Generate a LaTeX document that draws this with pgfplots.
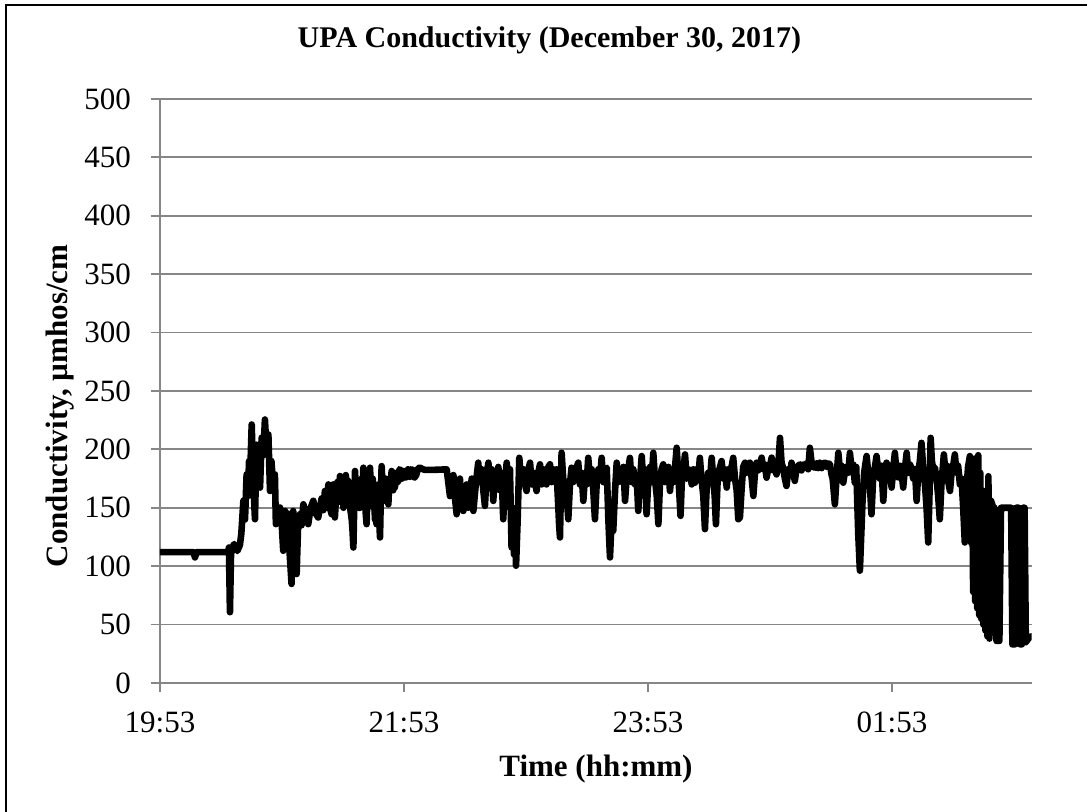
\documentclass[border=0pt]{standalone}
\usepackage{fontspec}
\setmainfont{Liberation Serif}
\usepackage{pgfplots}
\pgfplotsset{compat=1.18}
\definecolor{gridgray}{RGB}{134,134,134}
\begin{document}
\begin{tikzpicture}
\useasboundingbox (-80pt,-64.5pt) rectangle (463.5pt,341.5pt);
\draw[line width=1.3pt] (-77pt,-120pt) -- (-77pt,339pt) -- (520pt,339pt);
\begin{axis}[
  at={(0pt,0pt)}, anchor=south west,
  scale only axis, width=435.85pt, height=292pt,
  xmin=0, xmax=428.7, ymin=0, ymax=500,
  axis x line=bottom, axis y line=left,
  axis line style={gridgray, line width=0.9pt, -},
  xtick={0,120,240,360}, xticklabels={19:53,21:53,23:53,01:53},
  ytick={0,50,...,500},
  tick align=outside, major tick length=4.5pt,
  tick style={gridgray, line width=0.9pt},
  ymajorgrids, major grid style={gridgray, line width=0.9pt},
  tick label style={font=\fontsize{15.5}{18}\selectfont},
  yticklabel style={xshift=-6.5pt},
  xticklabel style={yshift=-6.5pt},
  /pgf/number format/assume math mode=true,
]
\addplot[black, line width=3.3pt, line join=round, line cap=round] coordinates {
(0,112) (16.5,112) (17.2,107.5) (18,112) (33.6,112) (33.9,116) (34.4,60.6) (34.9,108)
(35.2,115) (36.5,119) (38,113) (39.3,118) (40,128) (41,156) (41.8,140) (42.6,178.6)
(43.2,160) (43.8,190) (44.3,175) (45.1,221.3) (45.6,190) (46.2,160) (46.7,140.2) (47.5,204)
(48.3,175) (49.2,167.3) (50,210) (50.8,195) (51.6,225.6) (52.4,200) (53.3,212.8) (54.1,164.4)
(54.8,190) (55.6,170) (56.5,178.6) (57,136) (58,148) (59,150.2) (59.8,138) (60.6,113.2)
(61.5,147.3) (62.3,125) (63,145) (63.8,110) (64.7,84.8) (65.5,147.3) (66.3,120) (67.2,93.3)
(68,140) (68.8,144.5) (69.6,135) (70.5,153) (71.7,145) (72.9,136) (74.1,150) (75.4,156)
(76.6,145) (77.8,141.7) (79.5,158) (80.3,148) (81.1,164.4) (82,150) (82.8,170) (83.6,150)
(84.4,144.5) (85.2,170) (86,141.7) (86.6,160) (87.2,172) (87.8,155) (88.5,177.2) (89.3,160)
(89.8,170) (90.2,150) (90.8,165) (91.4,178) (92,160) (92.6,173) (93.1,155) (93.5,150)
(94.3,140) (94.7,130) (95.1,116) (95.5,150) (95.9,181.5) (96.5,160) (97,165) (97.7,150)
(98.4,150) (98.8,168) (99.2,175) (99.6,160) (100,184.3) (100.4,165) (100.8,160) (101.2,145)
(101.6,136) (102,160) (102.5,170) (102.9,155) (103.3,184.3) (103.7,165) (104.1,160) (104.6,175)
(105,150) (105.3,165) (105.7,140) (106.1,160) (106.5,136) (106.9,160) (107.3,170) (107.8,140)
(108.2,124.6) (108.6,160) (109,185.7) (109.5,165) (110,175) (110.6,156) (111,175) (111.5,170)
(111.9,160) (112.3,153) (112.7,170) (113.1,175) (113.5,165) (113.9,181.5) (114.3,168) (114.7,165)
(115.1,180) (115.5,167.3) (116,175) (116.4,180) (116.8,172) (117.2,173) (117.8,183) (118.4,182)
(119,175) (119.6,181.5) (120.3,176) (121,176) (122,183) (122.9,176.5) (123.7,183) (124.5,182)
(125.2,176) (126,178) (127,184) (127.8,184.3) (130,182.5) (135,182.5) (141,182.9)
(142.6,160) (143.5,172) (144.3,178) (145.1,158) (145.9,144.5) (146.7,165) (147.5,175) (148.3,152)
(149.2,147.3) (150,165) (150.8,170) (151.6,150) (152.5,160) (153.3,175) (154.1,147.3) (155.3,170)
(156.5,188.6) (157.3,172) (158.2,183) (159,165) (159.8,151.6) (160.6,178) (161.5,188.6) (162.3,172)
(163.1,183) (163.9,155.9) (164.7,180) (165.6,173) (166.4,185) (167.2,165) (168,180) (168.8,140.2)
(169.7,172) (170.5,188.6) (171.3,175) (172.1,183) (172.9,116.1) (173.5,150) (174.1,110) (174.6,130)
(175.1,100.4) (175.9,140) (176.7,192.8) (177.6,172) (178.7,183) (179.5,170) (180.3,164.4) (181.2,183)
(182,188.6) (182.8,170) (183.6,180) (184.4,172) (185.2,164.4) (186,180) (186.9,187.2) (187.7,170)
(188.5,183) (189.3,178) (190.1,170) (191,185) (191.8,187.2) (192.6,172) (193.4,183) (194.2,172.9)
(195,183) (195.9,150) (196.3,135) (196.7,124.6) (197.5,197.1) (198.3,175) (199.2,170) (200,160)
(200.8,140.2) (201.6,170) (202.4,184.3) (203.2,172) (204.1,178) (204.9,185) (205.7,188.6) (206.5,170)
(207.3,180) (208.2,155.9) (209,178) (209.8,170) (210.6,192.8) (211.5,175) (212.3,183) (213.1,165)
(213.9,140.2) (214.8,172) (215.6,183) (216.4,175) (217.2,192.8) (218,172) (218.9,183) (219.7,184.3)
(220.5,140) (221.3,107.5) (222.1,140) (222.9,130.3) (223.8,165) (224.6,188.6) (225.4,172) (226.2,183)
(227,175) (227.9,185) (228.7,155.9) (229.5,176) (230.3,183) (231.1,192.8) (231.9,172) (232.8,183)
(233.6,170) (234.4,178) (235.2,147.3) (236,172) (236.9,194.3) (237.7,172) (238.5,183) (239.3,144.5)
(240.1,172) (241,185) (241.8,172) (242.6,197.1) (243.4,175) (244.3,160) (245.1,136) (245.9,172)
(246.7,183) (247.5,187.2) (248.3,172) (249.2,178) (250,185) (250.8,164.4) (251.6,180) (252.5,172)
(253.3,185) (254.1,201.4) (255,175) (256,143.1) (256.6,172) (257.4,183) (258.2,195.7) (259,175)
(259.8,183) (260.6,182) (261.5,170) (262.3,183) (263.1,171.5) (263.9,183) (264.7,175) (265.5,192.8)
(266.3,175) (267.2,160) (268,131.7) (268.8,165) (269.6,180) (270.4,172) (271.3,192.8) (272.1,175)
(272.8,160) (273.4,135.9) (274.2,172) (275.1,183) (276.2,190) (277,175) (277.8,183) (278.7,167.3)
(279.5,183) (280.3,175) (281.1,185) (281.9,192.8) (282.8,175) (283.6,165) (284.4,140.2)
(285.2,141.7) (286,165) (286.8,185) (287.7,188.6) (288.5,180) (289.3,186) (290.1,188.6) (291,175)
(291.8,160.1) (292.6,180) (293.4,188.6) (294.2,182) (295,187) (295.9,192.9) (296.7,183) (297.5,187)
(298.3,175.8) (299.1,183) (300,186) (300.8,192.9) (301.6,182) (302.4,186) (303.2,178.6) (304.1,186)
(304.9,209.9) (305.7,188) (306.5,184.3) (307.3,175) (308.1,168.7) (309,183) (309.8,178) (310.6,188.6)
(311.4,180) (312.2,173) (313,183) (313.9,186) (314.7,187.2) (315.5,182) (316.4,187) (317.2,184.3)
(318,188) (318.8,183) (319.6,201.4) (320.5,188) (321.3,185) (322.1,184.3) (322.9,188) (323.7,184)
(324.5,188.6) (325.4,184) (326.2,188) (327,188.6) (327.8,185) (328.7,188) (329.5,187.2) (330.3,178)
(330.8,175) (331.9,153) (332.7,175) (333.6,197.1) (334.4,182) (335.2,186) (336,171.5) (336.8,180)
(337.6,185) (338.5,180) (339.3,197.1) (340.1,183) (340.9,187) (341.7,171.5) (342.4,185) (343,150)
(343.4,127.4) (344.2,96.2) (345.5,155.9) (346.3,180) (347.5,194.3) (348.3,180) (349.1,170) (349.9,144.5)
(350.7,175) (351.6,185) (352.4,194.3) (353.2,182) (354,175) (354.8,186) (355.7,155.9) (356.5,180)
(357.3,188.6) (358.1,180) (359,186) (359.8,167.3) (360.6,183) (361.4,197.1) (362.2,180) (363.1,176)
(363.9,186) (364.7,180) (365.5,167.3) (366.3,183) (367.2,197.1) (368,180) (368.8,187) (369.6,184.3)
(370.4,175) (371.3,183) (372.1,155.9) (372.9,180) (373.7,190) (374.5,205.6) (375.3,185) (376.2,170)
(377,150) (377.8,120.3) (378.4,160) (379,209.9) (379.6,190) (380.3,183) (381.1,184.3) (381.9,175)
(382.7,160) (383.5,140.2) (384.3,170) (385.5,195.7) (386.3,180) (387.1,186) (387.7,172) (388.5,164.4)
(389.3,180) (390.1,186) (390.9,195.7) (391.7,180) (392.5,186) (393.4,170) (394.2,175) (395,150)
(395.8,120.3) (396.6,165) (397.4,185) (398.3,194.3) (398.9,120) (399.4,190) (399.9,78)
(400.4,192) (400.9,70) (401.4,190) (401.9,64) (402.4,195) (402.9,58) (403.4,180) (403.9,55)
(404.4,165) (404.9,50) (405.4,155) (405.9,45) (406.4,140) (406.9,40) (407.4,177) (407.9,38)
(408.7,156) (409.8,150) (410.4,150) (411.4,36) (412.8,36) (413.6,150) (418.6,150) (419.2,33)
(420.4,33) (421,150) (422.4,150) (423,33) (423.8,33) (424.4,150) (425.2,150) (425.8,35)
(427.5,39) (428.7,40)
};
\end{axis}
\node[anchor=base, font=\bfseries\fontsize{15}{18}\selectfont] at (194.75pt,317.5pt) {UPA Conductivity (December 30, 2017)};
\node[anchor=base, font=\bfseries\fontsize{15.5}{18}\selectfont] at (218pt,-47pt) {Time (hh:mm)};
\node[anchor=base, rotate=90, font=\bfseries\fontsize{15.5}{18}\selectfont] at (-46pt,138.5pt) {Conductivity, µmhos/cm};
\end{tikzpicture}
\end{document}
